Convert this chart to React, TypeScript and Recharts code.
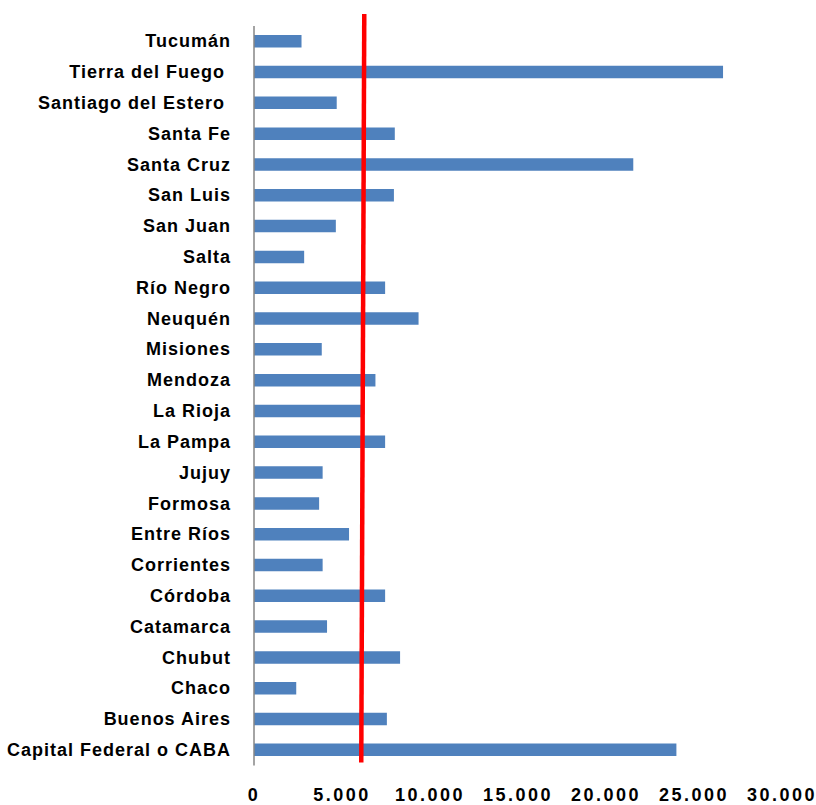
import React from "react";
import { BarChart, Bar, XAxis, YAxis, ReferenceLine } from "recharts";

const provinces = [
  "Tucumán",
  "Tierra del Fuego ",
  "Santiago del Estero ",
  "Santa Fe",
  "Santa Cruz",
  "San Luis",
  "San Juan",
  "Salta",
  "Río Negro",
  "Neuquén",
  "Misiones",
  "Mendoza",
  "La Rioja",
  "La Pampa",
  "Jujuy",
  "Formosa",
  "Entre Ríos",
  "Corrientes",
  "Córdoba",
  "Catamarca",
  "Chubut",
  "Chaco",
  "Buenos Aires",
  "Capital Federal o CABA",
];

const values = [
  2700, 26650, 4700, 8000, 21550, 7950, 4650, 2850, 7450, 9350, 3850, 6900,
  6100, 7450, 3900, 3700, 5400, 3900, 7450, 4150, 8300, 2400, 7550, 24000,
];

const xTicks = [0, 5000, 10000, 15000, 20000, 25000, 30000];
const average = 6180;

const data = provinces.map((name, i) => ({ name, value: values[i] }));

const BLUE = "#4f81bd";
const RED = "#ff0000";
const font = "'Liberation Sans', Arial, sans-serif";

const fmt = (v: number) => v.toLocaleString("de-DE");

function YTick({ x, y, payload }: any) {
  return (
    <text
      x={x}
      y={y}
      dy={6}
      textAnchor="end"
      fill="#000"
      fontFamily={font}
      fontWeight="bold"
      fontSize={18}
      letterSpacing={1}
      style={{ whiteSpace: "pre" }}
    >
      {payload.value}
    </text>
  );
}

function XTick({ x, y, payload }: any) {
  return (
    <text
      x={x}
      y={y}
      dy={34}
      textAnchor="middle"
      fill="#000"
      fontFamily={font}
      fontWeight="bold"
      fontSize={18}
      letterSpacing={2.5}
    >
      {fmt(payload.value)}
    </text>
  );
}

// hand-drawn looking red marker, slightly tilted (top leans right)
function RedLine(props: any) {
  const { x1, y1, x2, y2 } = props;
  const top = Math.min(y1, y2);
  const bottom = Math.max(y1, y2);
  const x = (x1 + x2) / 2;
  return (
    <line
      x1={x + 1.5}
      y1={top - 12}
      x2={x - 1.5}
      y2={bottom - 3}
      stroke={RED}
      strokeWidth={4.5}
    />
  );
}

export default function App() {
  return (
    <div style={{ position: "absolute", left: 0, top: 0, background: "#fff" }}>
      <BarChart
        width={816}
        height={805}
        data={data}
        layout="vertical"
        margin={{ top: 26, right: 34, bottom: 9.6, left: 0 }}
      >
        <XAxis
          type="number"
          domain={[0, 30000]}
          ticks={xTicks}
          axisLine={false}
          tickLine={false}
          tickSize={0}
          height={30}
          tick={<XTick />}
          interval={0}
        />
        <YAxis
          type="category"
          dataKey="name"
          width={254}
          axisLine={{ stroke: "#868686", strokeWidth: 1.5 }}
          tickLine={false}
          tickSize={0}
          tickMargin={23}
          tick={<YTick />}
          interval={0}
        />
        <Bar
          dataKey="value"
          fill={BLUE}
          barSize={12.5}
          isAnimationActive={false}
        />
        <ReferenceLine
          x={average}
          stroke={RED}
          ifOverflow="visible"
          shape={<RedLine />}
        />
      </BarChart>
    </div>
  );
}
